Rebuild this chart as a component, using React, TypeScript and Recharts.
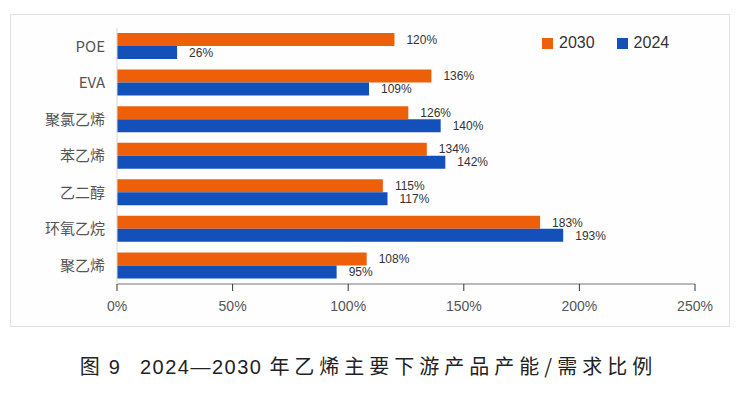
import React from "react";
import { BarChart, Bar, XAxis, YAxis, LabelList } from "recharts";

const categories = ["POE", "EVA", "聚氯乙烯", "苯乙烯", "乙二醇", "环氧乙烷", "聚乙烯"];
const ratio2030 = [120, 136, 126, 134, 115, 183, 108];
const ratio2024 = [26, 109, 140, 142, 117, 193, 95];
const xTicks = [0, 50, 100, 150, 200, 250];

const ORANGE = "#EE5F0A";
const BLUE = "#1450BA";
const LATIN = "Liberation Sans, Arial, sans-serif";
const CJK = "Noto Sans CJK SC, sans-serif";

const data = categories.map((name, i) => ({
  name,
  y2030: ratio2030[i],
  y2024: ratio2024[i],
}));

const LegendBox = () => (
  <div
    style={{
      position: "absolute",
      left: 531,
      top: 19,
      display: "flex",
      alignItems: "center",
      fontFamily: LATIN,
      fontSize: 16,
      color: "#333",
    }}
  >
    {[
      { label: "2030", color: ORANGE },
      { label: "2024", color: BLUE },
    ].map((item, i) => (
      <div key={item.label} style={{ display: "flex", alignItems: "center", marginRight: i === 0 ? 22 : 0 }}>
        <span style={{ width: 11, height: 11, background: item.color, display: "inline-block", marginRight: 6 }} />
        <span>{item.label}</span>
      </div>
    ))}
  </div>
);

const App: React.FC = () => {
  const labelStyle = { fill: "#333", fontSize: 12, fontFamily: LATIN };
  return (
    <div style={{ position: "absolute", left: 0, top: 0, width: 737, height: 399, background: "#fff" }}>
      <div
        style={{
          position: "absolute",
          left: 10,
          top: 14,
          width: 718,
          height: 311,
          border: "1px solid #e2e2e2",
          background: "#fefefe",
        }}
      >
        <BarChart
          width={718}
          height={311}
          data={data}
          layout="vertical"
          margin={{ top: 13, right: 34, bottom: 12, left: 0 }}
          barGap={0}
          barCategoryGap={5}
        >
          <XAxis
            type="number"
            domain={[0, 250]}
            ticks={xTicks}
            tickFormatter={(v) => `${v}%`}
            axisLine={{ stroke: "#777" }}
            tickLine={{ stroke: "#333" }}
            tickSize={7}
            tickMargin={10}
            height={30}
            tick={{ fill: "#555", fontSize: 14, fontFamily: LATIN }}
          />
          <YAxis
            type="category"
            dataKey="name"
            width={106}
            axisLine={{ stroke: "#d8d8d8" }}
            tickLine={false}
            tickMargin={6}
            tick={{ fill: "#555", fontSize: 15, fontFamily: CJK }}
          />
          <Bar dataKey="y2030" name="2030" fill={ORANGE} barSize={13} isAnimationActive={false}>
            <LabelList dataKey="y2030" position="right" offset={12} formatter={(v: number) => `${v}%`} style={labelStyle} />
          </Bar>
          <Bar dataKey="y2024" name="2024" fill={BLUE} barSize={13} isAnimationActive={false}>
            <LabelList dataKey="y2024" position="right" offset={12} formatter={(v: number) => `${v}%`} style={labelStyle} />
          </Bar>
        </BarChart>
        <LegendBox />
      </div>
      <div
        style={{
          position: "absolute",
          left: 0,
          top: 351,
          width: 737,
          textAlign: "center",
          color: "#222",
          whiteSpace: "nowrap",
        }}
      >
        <span style={{ fontFamily: CJK, fontSize: 20 }}>图</span>
        <span style={{ fontFamily: LATIN, fontSize: 20, marginLeft: 9 }}>9</span>
        <span style={{ fontFamily: LATIN, fontSize: 20, marginLeft: 20, letterSpacing: 1.5 }}>2024—2030</span>
        <span style={{ fontFamily: CJK, fontSize: 20, marginLeft: 7, letterSpacing: 5 }}>
          年乙烯主要下游产品产能/需求比例
        </span>
      </div>
    </div>
  );
};

export default App;
